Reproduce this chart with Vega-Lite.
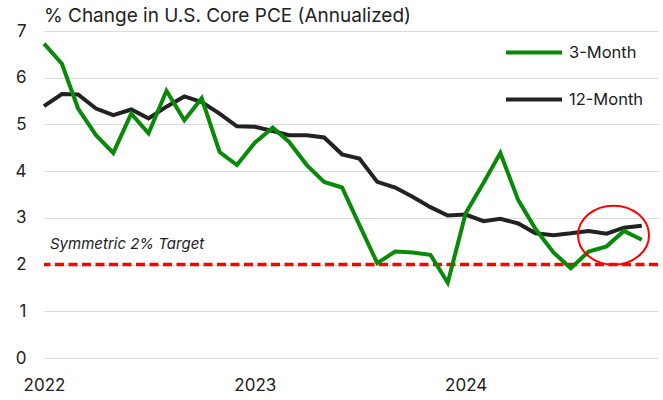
{
  "$schema": "https://vega.github.io/schema/vega-lite/v6.json",
  "width": 614,
  "height": 327,
  "autosize": {"type": "none"},
  "padding": {"left": 44, "top": 31, "right": 5, "bottom": 42},
  "background": "white",
  "config": {"font": "Inter", "view": {"stroke": null}},
  "title": {"text": "% Change in U.S. Core PCE (Annualized)", "anchor": "start", "frame": "group", "fontSize": 19, "fontWeight": "normal", "color": "#222222", "offset": 9, "dy": 13},
  "datasets": {
    "pce": [
      {"date": "2022-01-01", "series": "3-Month", "value": 6.73}, {"date": "2022-01-01", "series": "12-Month", "value": 5.39},
      {"date": "2022-02-01", "series": "3-Month", "value": 6.30}, {"date": "2022-02-01", "series": "12-Month", "value": 5.65},
      {"date": "2022-03-01", "series": "3-Month", "value": 5.34}, {"date": "2022-03-01", "series": "12-Month", "value": 5.64},
      {"date": "2022-04-01", "series": "3-Month", "value": 4.77}, {"date": "2022-04-01", "series": "12-Month", "value": 5.34},
      {"date": "2022-05-01", "series": "3-Month", "value": 4.39}, {"date": "2022-05-01", "series": "12-Month", "value": 5.20},
      {"date": "2022-06-01", "series": "3-Month", "value": 5.23}, {"date": "2022-06-01", "series": "12-Month", "value": 5.32},
      {"date": "2022-07-01", "series": "3-Month", "value": 4.81}, {"date": "2022-07-01", "series": "12-Month", "value": 5.13},
      {"date": "2022-08-01", "series": "3-Month", "value": 5.72}, {"date": "2022-08-01", "series": "12-Month", "value": 5.38},
      {"date": "2022-09-01", "series": "3-Month", "value": 5.09}, {"date": "2022-09-01", "series": "12-Month", "value": 5.60},
      {"date": "2022-10-01", "series": "3-Month", "value": 5.56}, {"date": "2022-10-01", "series": "12-Month", "value": 5.48},
      {"date": "2022-11-01", "series": "3-Month", "value": 4.41}, {"date": "2022-11-01", "series": "12-Month", "value": 5.23},
      {"date": "2022-12-01", "series": "3-Month", "value": 4.13}, {"date": "2022-12-01", "series": "12-Month", "value": 4.96},
      {"date": "2023-01-01", "series": "3-Month", "value": 4.61}, {"date": "2023-01-01", "series": "12-Month", "value": 4.95},
      {"date": "2023-02-01", "series": "3-Month", "value": 4.93}, {"date": "2023-02-01", "series": "12-Month", "value": 4.86},
      {"date": "2023-03-01", "series": "3-Month", "value": 4.63}, {"date": "2023-03-01", "series": "12-Month", "value": 4.77},
      {"date": "2023-04-01", "series": "3-Month", "value": 4.13}, {"date": "2023-04-01", "series": "12-Month", "value": 4.77},
      {"date": "2023-05-01", "series": "3-Month", "value": 3.77}, {"date": "2023-05-01", "series": "12-Month", "value": 4.72},
      {"date": "2023-06-01", "series": "3-Month", "value": 3.65}, {"date": "2023-06-01", "series": "12-Month", "value": 4.36},
      {"date": "2023-07-01", "series": "3-Month", "value": 2.85}, {"date": "2023-07-01", "series": "12-Month", "value": 4.27},
      {"date": "2023-08-01", "series": "3-Month", "value": 2.03}, {"date": "2023-08-01", "series": "12-Month", "value": 3.77},
      {"date": "2023-09-01", "series": "3-Month", "value": 2.28}, {"date": "2023-09-01", "series": "12-Month", "value": 3.65},
      {"date": "2023-10-01", "series": "3-Month", "value": 2.26}, {"date": "2023-10-01", "series": "12-Month", "value": 3.45},
      {"date": "2023-11-01", "series": "3-Month", "value": 2.21}, {"date": "2023-11-01", "series": "12-Month", "value": 3.23},
      {"date": "2023-12-01", "series": "3-Month", "value": 1.61}, {"date": "2023-12-01", "series": "12-Month", "value": 3.05},
      {"date": "2024-01-01", "series": "3-Month", "value": 3.10}, {"date": "2024-01-01", "series": "12-Month", "value": 3.07},
      {"date": "2024-02-01", "series": "3-Month", "value": 3.75}, {"date": "2024-02-01", "series": "12-Month", "value": 2.93},
      {"date": "2024-03-01", "series": "3-Month", "value": 4.39}, {"date": "2024-03-01", "series": "12-Month", "value": 2.98},
      {"date": "2024-04-01", "series": "3-Month", "value": 3.38}, {"date": "2024-04-01", "series": "12-Month", "value": 2.88},
      {"date": "2024-05-01", "series": "3-Month", "value": 2.76}, {"date": "2024-05-01", "series": "12-Month", "value": 2.67},
      {"date": "2024-06-01", "series": "3-Month", "value": 2.26}, {"date": "2024-06-01", "series": "12-Month", "value": 2.63},
      {"date": "2024-07-01", "series": "3-Month", "value": 1.92}, {"date": "2024-07-01", "series": "12-Month", "value": 2.67},
      {"date": "2024-08-01", "series": "3-Month", "value": 2.28}, {"date": "2024-08-01", "series": "12-Month", "value": 2.72},
      {"date": "2024-09-01", "series": "3-Month", "value": 2.39}, {"date": "2024-09-01", "series": "12-Month", "value": 2.66},
      {"date": "2024-10-01", "series": "3-Month", "value": 2.72}, {"date": "2024-10-01", "series": "12-Month", "value": 2.79},
      {"date": "2024-11-01", "series": "3-Month", "value": 2.53}, {"date": "2024-11-01", "series": "12-Month", "value": 2.83}
    ],
    "target": [{"label": "Symmetric 2% Target", "date": "2022-01-01", "value": 2}],
    "highlight": [{"date": "2024-09-13", "value": 2.63}]
  },
  "layer": [
    {
      "data": {"name": "target"},
      "mark": {"type": "rule", "color": "#ff0000", "strokeWidth": 3.5, "strokeDash": [9, 4.5]},
      "encoding": {
        "y": {"field": "value", "type": "quantitative", "scale": {"domain": [0, 7], "nice": false},
          "axis": {"values": [0, 1, 2, 3, 4, 5, 6, 7], "grid": true, "gridColor": "#dcdcdc", "gridWidth": 1, "domain": false, "ticks": false, "labelPadding": 18, "labelFontSize": 17, "labelColor": "#222222", "title": null}}
      }
    },
    {
      "data": {"name": "target"},
      "mark": {"type": "text", "align": "left", "baseline": "middle", "fontStyle": "italic", "fontSize": 15, "color": "#222222", "dx": 6, "dy": -21},
      "encoding": {
        "x": {"field": "date", "type": "temporal"},
        "y": {"field": "value", "type": "quantitative"},
        "text": {"field": "label"}
      }
    },
    {
      "data": {"name": "pce"},
      "transform": [{"filter": "datum.series === '12-Month'"}],
      "mark": {"type": "line", "strokeWidth": 4},
      "encoding": {
        "x": {"field": "date", "type": "temporal",
          "scale": {"type": "utc", "domain": ["2022-01-01", "2024-11-29"]},
          "axis": {"format": "%Y", "values": ["2022-01-01", "2023-01-01", "2024-01-01"], "grid": false, "domain": false, "ticks": false, "labelPadding": 19, "labelFontSize": 17, "labelColor": "#222222", "labelFlush": false, "labelBound": false, "title": null}},
        "y": {"field": "value", "type": "quantitative"},
        "color": {"field": "series", "type": "nominal",
          "scale": {"domain": ["3-Month", "12-Month"], "range": ["#088a08", "#222222"]},
          "legend": {"title": null, "orient": "none", "legendX": 460, "legendY": 13, "padding": 0, "symbolType": "stroke", "symbolSize": 3136, "symbolStrokeWidth": 4, "clipHeight": 17, "rowPadding": 30, "labelFontSize": 16.5, "labelColor": "#222222", "labelOffset": 5}}
      }
    },
    {
      "data": {"name": "pce"},
      "transform": [{"filter": "datum.series === '3-Month'"}],
      "mark": {"type": "line", "strokeWidth": 4},
      "encoding": {
        "x": {"field": "date", "type": "temporal"},
        "y": {"field": "value", "type": "quantitative"},
        "color": {"field": "series", "type": "nominal",
          "legend": {"title": null, "orient": "none", "legendX": 460, "legendY": 13, "padding": 0, "symbolType": "stroke", "symbolSize": 3136, "symbolStrokeWidth": 4, "clipHeight": 17, "rowPadding": 30, "labelFontSize": 16.5, "labelColor": "#222222", "labelOffset": 5}}
      }
    },
    {
      "data": {"name": "highlight"},
      "mark": {"type": "point", "shape": "M-1,0A1,0.83,0,1,0,1,0A1,0.83,0,1,0,-1,0Z", "size": 5041, "filled": false, "stroke": "#ff0000", "strokeWidth": 2, "opacity": 1},
      "encoding": {
        "x": {"field": "date", "type": "temporal"},
        "y": {"field": "value", "type": "quantitative"}
      }
    }
  ]
}
